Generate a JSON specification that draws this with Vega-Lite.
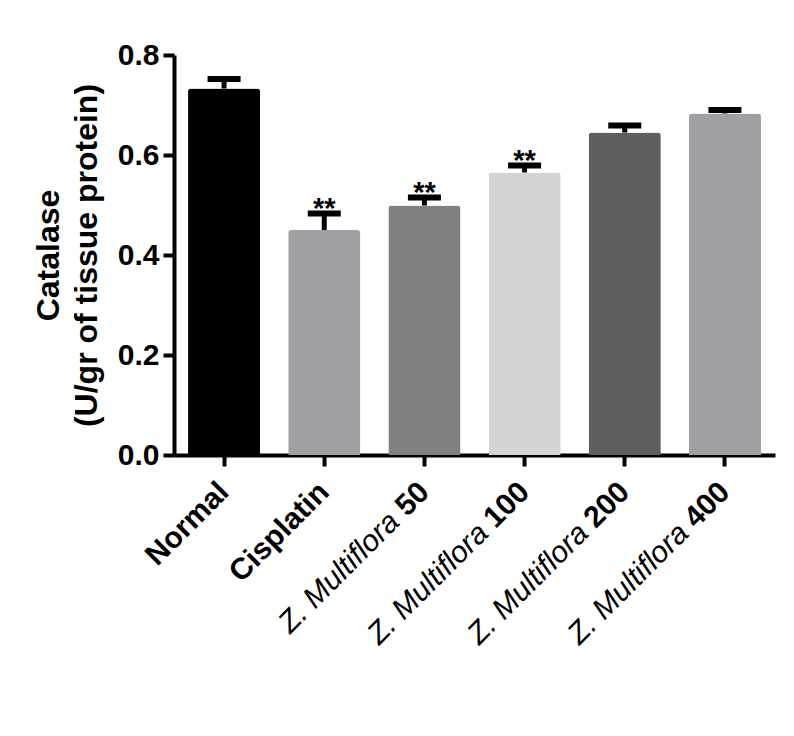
{
  "$schema": "https://vega.github.io/schema/vega-lite/v6.json",
  "width": 601,
  "height": 400,
  "autosize": {"type": "none"},
  "padding": {"left": 174, "top": 55, "right": 19, "bottom": 281},
  "background": "white",
  "config": {"view": {"stroke": null}, "font": "Liberation Sans"},
  "data": {
    "values": [
      {"group": "Normal", "italic": "", "bold": "Normal", "dose": "", "mean": 0.733, "upper": 0.752, "sig": ""},
      {"group": "Cisplatin", "italic": "", "bold": "Cisplatin", "dose": "", "mean": 0.45, "upper": 0.483, "sig": "**"},
      {"group": "Z. Multiflora 50", "italic": "Z. Multiflora", "bold": "50", "dose": "50", "mean": 0.499, "upper": 0.515, "sig": "**"},
      {"group": "Z. Multiflora 100", "italic": "Z. Multiflora", "bold": "100", "dose": "100", "mean": 0.565, "upper": 0.579, "sig": "**"},
      {"group": "Z. Multiflora 200", "italic": "Z. Multiflora", "bold": "200", "dose": "200", "mean": 0.645, "upper": 0.659, "sig": ""},
      {"group": "Z. Multiflora 400", "italic": "Z. Multiflora", "bold": "400", "dose": "400", "mean": 0.683, "upper": 0.69, "sig": ""}
    ]
  },
  "encoding": {
    "x": {
      "field": "group",
      "type": "nominal",
      "sort": null,
      "scale": {"paddingInner": 0.28, "paddingOuter": 0.14},
      "axis": {
        "labels": false,
        "title": null,
        "domainColor": "black",
        "domainWidth": 4,
        "tickColor": "black",
        "tickWidth": 4,
        "tickSize": 11
      }
    }
  },
  "layer": [
    {
      "mark": {"type": "bar", "cornerRadiusTopLeft": 3, "cornerRadiusTopRight": 3},
      "encoding": {
        "y": {
          "field": "mean",
          "type": "quantitative",
          "scale": {"domain": [0, 0.8], "nice": false},
          "axis": {
            "values": [0, 0.2, 0.4, 0.6, 0.8],
            "format": ".1f",
            "grid": false,
            "domainColor": "black",
            "domainWidth": 4,
            "tickColor": "black",
            "tickWidth": 4,
            "tickSize": 11,
            "labelFont": "Liberation Sans",
            "labelFontSize": 30,
            "labelFontWeight": "bold",
            "labelColor": "black",
            "labelPadding": 4,
            "title": ["Catalase", "(U/gr of tissue protein)"],
            "titleFont": "Liberation Sans",
            "titleFontSize": 32,
            "titleFontWeight": "bold",
            "titleColor": "black",
            "titleLineHeight": 38,
            "titlePadding": 14
          }
        },
        "color": {
          "field": "group",
          "type": "nominal",
          "legend": null,
          "scale": {
            "domain": ["Normal", "Cisplatin", "Z. Multiflora 50", "Z. Multiflora 100", "Z. Multiflora 200", "Z. Multiflora 400"],
            "range": ["#000000", "#a0a0a4", "#808080", "#d4d4d4", "#5f5f5f", "#a0a0a4"]
          }
        }
      }
    },
    {
      "mark": {"type": "rule", "color": "black", "strokeWidth": 5},
      "encoding": {
        "y": {"field": "mean", "type": "quantitative"},
        "y2": {"field": "upper"}
      }
    },
    {
      "mark": {"type": "tick", "color": "black", "size": 33, "thickness": 6, "opacity": 1},
      "encoding": {
        "y": {"field": "upper", "type": "quantitative"}
      }
    },
    {
      "mark": {"type": "text", "fontSize": 29, "fontWeight": "bold", "color": "black", "baseline": "alphabetic", "align": "center", "dy": 4},
      "encoding": {
        "y": {"field": "upper", "type": "quantitative"},
        "text": {"field": "sig"}
      }
    },
    {
      "mark": {"type": "text", "fontSize": 30, "fontWeight": "bold", "color": "black", "angle": 315, "align": "right", "baseline": "middle", "dx": -23, "dy": 23},
      "encoding": {
        "y": {"datum": 0, "type": "quantitative"},
        "text": {"field": "bold"}
      }
    },
    {
      "transform": [{"filter": "datum.dose == '50'"}],
      "mark": {"type": "text", "fontSize": 30, "fontStyle": "italic", "color": "black", "angle": 315, "align": "right", "baseline": "middle", "dx": -65, "dy": 23},
      "encoding": {
        "y": {"datum": 0, "type": "quantitative"},
        "text": {"field": "italic"}
      }
    },
    {
      "transform": [{"filter": "datum.dose == '100' || datum.dose == '200' || datum.dose == '400'"}],
      "mark": {"type": "text", "fontSize": 30, "fontStyle": "italic", "color": "black", "angle": 315, "align": "right", "baseline": "middle", "dx": -81, "dy": 23},
      "encoding": {
        "y": {"datum": 0, "type": "quantitative"},
        "text": {"field": "italic"}
      }
    }
  ]
}
